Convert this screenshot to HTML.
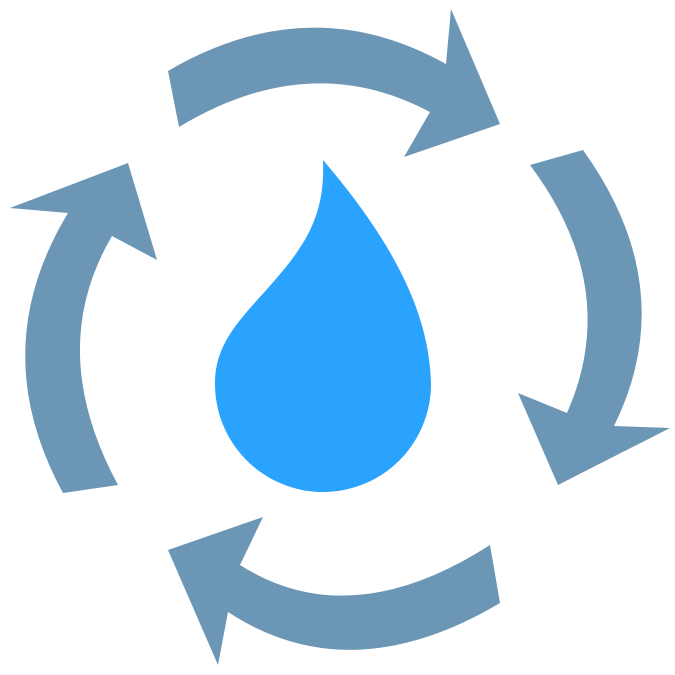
<!DOCTYPE html>
<html><head><style>html,body{margin:0;padding:0;background:#fff}svg{display:block}</style></head>
<body>
<svg width="675" height="675" viewBox="0 0 675 675" xmlns="http://www.w3.org/2000/svg">
<g fill="#6b96b5">
<path d="M168,71 Q310,-12 446,64 L451,9 L500,124 L404,157 L430,112 Q310,48 179,127 Z"/>
<path d="M583,150 Q682,288 614,426 L670,428 L558,485 L518,393 L567,413 Q622,288 530,165 Z"/>
<path d="M500,603 Q350,692 228,612 L218,665 L168,550 L263,517 L240,565 Q350,635 490,545 Z"/>
<path d="M63,493 Q-15,350 68,213 L10,208 L128,163 L157,260 L112,236 Q45,350 118,485 Z"/>
</g>
<path fill="#2aa3ff" d="M323,160 C400,250 430,320 431,385 A108,108 0 0 1 215,383 C215,340 245,315 275,280 C310,240 325,210 323,160 Z"/>
</svg>
</body></html>
